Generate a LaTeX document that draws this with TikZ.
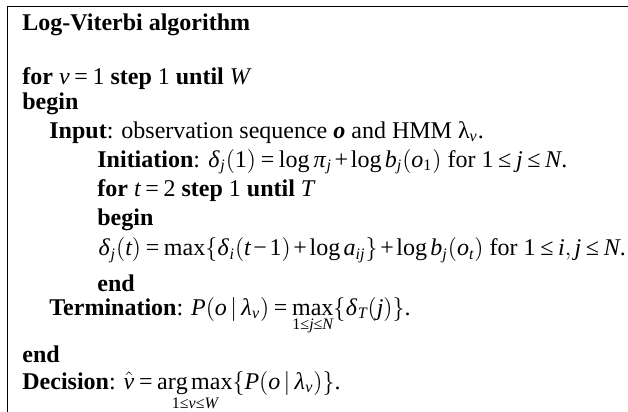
\documentclass[tikz,border=0pt]{standalone}
\usepackage{amsmath}
\usepackage{mathspec}
\setmainfont{Liberation Serif}
\setmathsfont(Digits,Latin,Greek){Liberation Serif}
\setmathrm{Liberation Serif}
% operadores e relacoes no mesmo tipo do texto
\renewcommand{\log}{\mathop{\mathrm{log}}\nolimits}
\renewcommand{\max}{\mathop{\mathrm{max}}}
\newcommand{\argmax}{\mathop{\mathrm{arg\,max}}}
\newcommand{\igual}{\mathrel{\text{=}}}
\newcommand{\mais}{\mathbin{\text{+}}}
\newcommand{\menos}{\mathbin{\text{−}}}
\newcommand{\menorig}{\mathrel{\text{≤}}}
\thickmuskip=3.5mu plus 2mu\relax
\medmuskip=2mu plus 1mu\relax
\thinmuskip=2.5mu\relax
\begin{document}
\begin{tikzpicture}[x=0.5pt,y=-0.5pt,
    linha/.style={anchor=base west,inner sep=0pt,font=\fontsize{12}{14}\selectfont}]
  \useasboundingbox (0,0) rectangle (628,412);
  % moldura: topo e lado esquerdo
  \draw[line width=0.75pt] (7.5,412) -- (7.5,6.5) -- (628,6.5);

  % laco externo
  \node[linha] (titulo) at (22,31) {\textbf{Log-Viterbi algorithm}};
  \node[linha] (forv) at (22,84) {\textbf{for} $v\igual 1$ \textbf{step} 1 \textbf{until} $W$};
  \node[linha] (beginv) at (22,110) {\textbf{begin}};
  \node[linha] (entrada) at (49,138) {\textbf{Input}: observation sequence \textbf{\textit{o}} and HMM λ$_{v}$.};

  % laco interno
  \node[linha] (inic) at (97,167) {\textbf{Initiation}: $\delta_j(1)\igual\log\pi_j\mais\log b_j(o_1)$ for $1\menorig j\menorig N$.};
  \node[linha] (fort) at (97,196) {\textbf{for} $t\igual 2$ \textbf{step} 1 \textbf{until} $T$};
  \node[linha] (begint) at (97,225) {\textbf{begin}};
  \node[linha] (recur) at (98,256) {$\delta_j(t)\igual\max\{\delta_i(t\menos 1)\mais\log a_{ij}\}\mais\log b_j(o_t)$ for $1\menorig i,j\menorig N$.};
  \node[linha] (endt) at (97,291) {\textbf{end}};

  \node[linha] (term) at (49,315) {\textbf{Termination}: $P(o\,|\,\lambda_v)\igual\max\limits_{1\menorig j\menorig N}\{\delta_T(j)\}$.};
  \node[linha] (endv) at (22,362) {\textbf{end}};
  \node[linha] (decisao) at (22,389) {\textbf{Decision}: $\hat{v}\igual\argmax\limits_{1\menorig v\menorig W}\{P(o\,|\,\lambda_v)\}$.};
\end{tikzpicture}
\end{document}
